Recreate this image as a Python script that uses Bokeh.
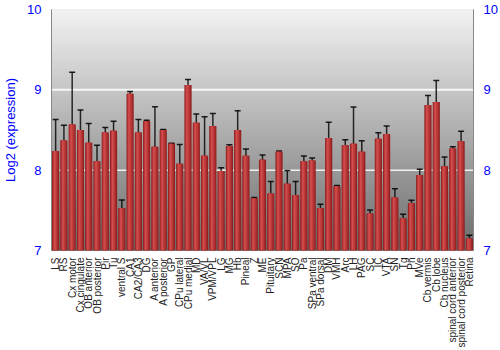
from bokeh.plotting import figure
from bokeh.models import (ColumnDataSource, FactorRange, Range1d, LinearAxis, FixedTicker,
                          BoxAnnotation, Span, Whisker, TeeHead)
from bokeh.transform import dodge
from bokeh.embed import file_html
from bokeh.resources import INLINE
import math

regions = ["LS", "RS", "Cx motor", "Cx cingulate", "OB anterior", "OB posterior", "Pir", "Tu",
           "ventral S", "CA1", "CA2/CA3", "DG", "A anterior", "A posterior", "GP", "CPu lateral",
           "CPu medial", "MD", "VA/VL", "VPM/VPL", "LG", "MG", "Hb", "Pineal", "Z", "ME",
           "Pituitary", "SCN", "MPA", "SO", "Pa", "SPa ventral", "SPa dorsal", "DM", "VMH", "Arc",
           "LH", "PAG", "SC", "IC", "VTA", "SN", "Tg", "Pn", "MVe", "Cb vermis", "Cb lobe",
           "Cb nucleus", "spinal cord anterior", "spinal cord posterior", "Retina"]

expression = [8.24, 8.37, 8.57, 8.50, 8.34, 8.11, 8.47, 8.49, 7.53, 8.95, 8.47, 8.61, 8.29, 8.50,
              8.33, 8.08, 9.06, 8.59, 8.18, 8.55, 7.99, 8.30, 8.50, 8.18, 7.65, 8.13, 7.71, 8.23,
              7.83, 7.69, 8.11, 8.12, 7.53, 8.40, 7.80, 8.31, 8.33, 8.23, 7.46, 8.39, 8.45, 7.66,
              7.40, 7.59, 7.94, 8.81, 8.85, 8.05, 8.27, 8.36, 7.15]

error = [0.39, 0.19, 0.65, 0.25, 0.24, 0.20, 0.06, 0.12, 0.10, 0.03, 0.16, 0.01, 0.50, 0.005,
         0.005, 0.24, 0.07, 0.11, 0.485, 0.155, 0.04, 0.015, 0.24, 0.085, 0.01, 0.06, 0.15, 0.01,
         0.165, 0.17, 0.065, 0.03, 0.045, 0.195, 0.01, 0.07, 0.455, 0.135, 0.045, 0.075, 0.10,
         0.11, 0.05, 0.035, 0.07, 0.12, 0.265, 0.115, 0.02, 0.125, 0.04]

y_ticks = [7, 8, 9, 10]
y_min, y_max = 7, 10

src = ColumnDataSource(dict(
    region=regions,
    value=expression,
    upper=[v + e for v, e in zip(expression, error)],
    lower=[v - e for v, e in zip(expression, error)],
))

p = figure(width=500, height=350, x_range=FactorRange(*regions), y_range=Range1d(y_min, y_max),
           output_backend="svg", toolbar_location=None,
           min_border_left=35, min_border_right=20, min_border_top=9, min_border_bottom=95)
p.background_fill_color = "#6c6c6c"
p.border_fill_color = "#ffffff"
p.outline_line_color = "#888888"
p.ygrid.visible = False
p.xgrid.visible = False

# background vertical gradient (overlapping layers, no seams)
n = 120
top_c = (0xf2, 0xf2, 0xf2)
bot_c = (0x6c, 0x6c, 0x6c)
for i in range(n):
    t0 = y_min + (y_max - y_min) * i / n
    f = (i + 0.5) / n
    c = tuple(int(round(bot_c[k] + (top_c[k] - bot_c[k]) * f)) for k in range(3))
    p.add_layout(BoxAnnotation(bottom=t0, fill_color="#%02x%02x%02x" % c, fill_alpha=1,
                               line_color=None, level="underlay"))

# grid lines
for t in y_ticks[1:-1]:
    p.add_layout(Span(location=t, dimension="width", line_color="#ffffff", line_alpha=0.85,
                      line_width=2 if t == 9 else 1.5, level="underlay"))

# cylinder-like bars
layers = [(0.0, 0.86, "#8a1b1b"), (-0.02, 0.72, "#a62b2b"), (-0.06, 0.48, "#bb3838"),
          (-0.10, 0.26, "#c94545"), (-0.13, 0.1, "#d25050")]
for off, w, col in layers:
    p.vbar(x=dodge("region", off, range=p.x_range), top="value", bottom=y_min, width=w,
           source=src, fill_color=col, line_color=None)

wh = Whisker(source=src, base="region", upper="upper", lower="lower", line_color="#000000",
             line_alpha=0.8, line_width=1.5,
             upper_head=TeeHead(size=6, line_color="#000000", line_width=1.5, line_alpha=0.85),
             lower_head=TeeHead(size=6, line_color="#000000", line_width=1.5, line_alpha=0.85))
p.add_layout(wh)

# axes
p.yaxis.ticker = FixedTicker(ticks=y_ticks)
p.yaxis.axis_label = "Log2 (expression)"
ax0 = p.yaxis[0]
ax0.axis_label_text_color = "#0000ff"
ax0.axis_label_text_font = "Liberation Sans"
ax0.axis_label_text_font_style = "normal"
ax0.axis_label_text_font_size = "13px"
ax0.axis_label_standoff = 6

right = LinearAxis(ticker=FixedTicker(ticks=y_ticks))
p.add_layout(right, "right")
for ax in [ax0, right]:
    ax.major_label_text_color = "#0000ff"
    ax.major_label_text_font = "Liberation Sans"
    ax.major_label_text_font_size = "13px"
    ax.major_tick_line_color = None
    ax.minor_tick_line_color = None
    ax.axis_line_color = "#888888"
    ax.major_label_standoff = 4

p.xaxis.major_label_orientation = math.pi / 2
p.xaxis.major_label_text_font = "Liberation Sans"
p.xaxis.major_label_text_font_size = "10px"
p.xaxis.major_label_text_color = "#222222"
p.xaxis.major_tick_line_color = None
p.xaxis.axis_line_color = None
p.xaxis.major_label_standoff = 1
p.x_range.range_padding = 0
p.x_range.factor_padding = 0

open("out.html", "w").write(file_html(p, INLINE))
